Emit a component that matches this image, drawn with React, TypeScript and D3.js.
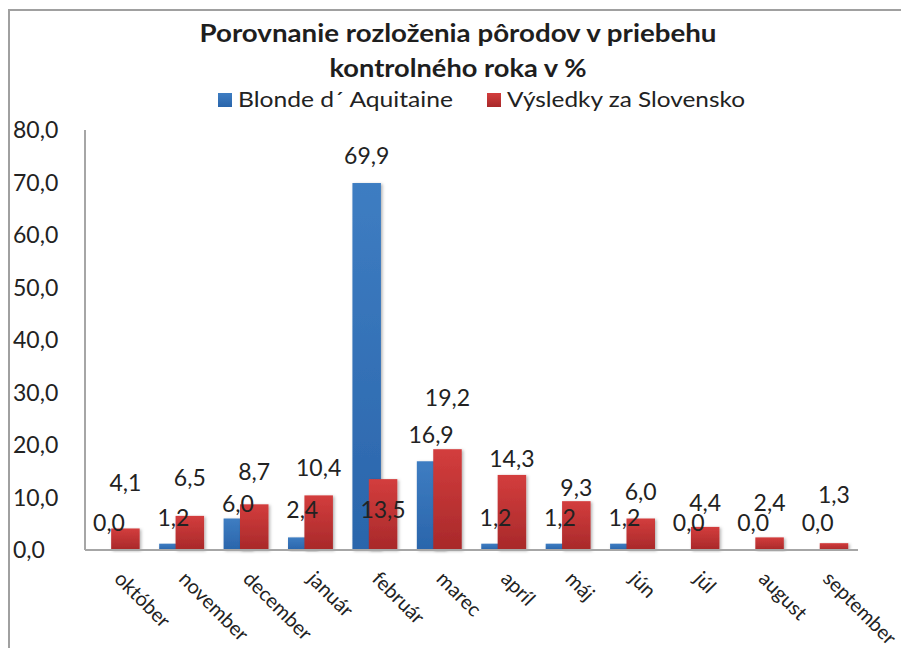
import React from "react";
import * as d3 from "d3";

const categories = ["október", "november", "december", "január", "február", "marec", "apríl", "máj", "jún", "júl", "august", "september"];
const blondeValues = [0.0, 1.2, 6.0, 2.4, 69.9, 16.9, 1.2, 1.2, 1.2, 0.0, 0.0, 0.0];
const slovakiaValues = [4.1, 6.5, 8.7, 10.4, 13.5, 19.2, 14.3, 9.3, 6.0, 4.4, 2.4, 1.3];
const yTicks = [0, 10, 20, 30, 40, 50, 60, 70, 80];
const seriesNames = ["Blonde d´ Aquitaine", "Výsledky za Slovensko"];
const titleLines = ["Porovnanie rozloženia pôrodov v priebehu", "kontrolného roka v %"];

// label nudges (pixels, relative to bar top) as placed in the original
const blueLabelDy = [-27, -26, -15, -27, -27, -26, -26, -26, -26, -27, -27, -27];
const redLabelDy = [-45, -38, -32, -27, 31, -51, -16, -13, -27, -24, -34, -48];

const W = 901;
const H = 648;
const FONT = "Lato, 'Open Sans', sans-serif";
const fmt = (v: number) => d3.format(".1f")(v).replace(".", ",");

export default function App() {
  const x0 = 85, x1 = 858, yBase = 550, yTop = 130;
  const x = d3.scaleBand<string>().domain(categories).range([x0, x1]).padding(0);
  const y = d3.scaleLinear().domain([0, 80]).range([yBase, yTop]);
  const barW = 28.5;
  const off = 8.2;
  const titleWidths = [517, 257];
  const titleY = [42, 77];

  return (
    <svg width={W} height={H} style={{ position: "fixed", left: 0, top: 0, background: "#fff" }} fontFamily={FONT}>
      <defs>
        <linearGradient id="gBlue" x1="0" y1="0" x2="0" y2="1">
          <stop offset="0%" stopColor="#3e7dc2" />
          <stop offset="100%" stopColor="#2a65ab" />
        </linearGradient>
        <linearGradient id="gRed" x1="0" y1="0" x2="0" y2="1">
          <stop offset="0%" stopColor="#d33d3d" />
          <stop offset="100%" stopColor="#a8292a" />
        </linearGradient>
        <filter id="shadow" x="-30%" y="-5%" width="160%" height="115%">
          <feDropShadow dx="1.5" dy="1" stdDeviation="1.5" floodColor="#000" floodOpacity="0.3" />
        </filter>
      </defs>
      <rect x={0} y={0} width={W} height={H} fill="#fff" />
      <rect x={9} y={10} width={W + 20} height={H + 20} fill="none" stroke="#a0a0a0" strokeWidth={2} />

      {titleLines.map((t, i) => (
        <text key={t} x={458 - titleWidths[i] / 2} y={titleY[i]} fontSize={24} fontWeight={700} fill="#1e1e1e"
          textLength={titleWidths[i]} lengthAdjust="spacingAndGlyphs">
          {t}
        </text>
      ))}

      {/* legend */}
      <rect x={218} y={93} width={14} height={14} fill="url(#gBlue)" />
      <text x={238} y={107} fontSize={21} fill="#222" textLength={215} lengthAdjust="spacingAndGlyphs">{seriesNames[0]}</text>
      <rect x={487} y={93} width={14} height={14} fill="url(#gRed)" />
      <text x={507} y={107} fontSize={21} fill="#222" textLength={238} lengthAdjust="spacingAndGlyphs">{seriesNames[1]}</text>

      {/* y tick labels */}
      {yTicks.map((t) => (
        <text key={t} x={13} y={y(t) + 8} fontSize={23} fill="#222">
          {fmt(t)}
        </text>
      ))}

      {/* bars */}
      {categories.map((c, i) => {
        const cx = (x(c) as number) + x.bandwidth() / 2;
        return (
          <g key={c}>
            {blondeValues[i] > 0 && (
              <rect x={cx - off - barW / 2} y={y(blondeValues[i])} width={barW} height={yBase - y(blondeValues[i])} fill="url(#gBlue)" filter="url(#shadow)" />
            )}
            <rect x={cx + off - barW / 2} y={y(slovakiaValues[i])} width={barW} height={yBase - y(slovakiaValues[i])} fill="url(#gRed)" filter="url(#shadow)" />
          </g>
        );
      })}

      {/* axes */}
      <line x1={x0} x2={x0} y1={yTop} y2={yBase} stroke="#a6a6a6" strokeWidth={2} />
      <line x1={x0} x2={x1} y1={yBase} y2={yBase} stroke="#a6a6a6" strokeWidth={2} />

      {/* data labels */}
      {categories.map((c, i) => {
        const cx = (x(c) as number) + x.bandwidth() / 2;
        return (
          <g key={"l" + c} fontSize={23} fill="#222" textAnchor="middle">
            <text x={cx - off} y={y(blondeValues[i]) + blueLabelDy[i] + 8}>{fmt(blondeValues[i])}</text>
            <text x={cx + off} y={y(slovakiaValues[i]) + redLabelDy[i] + 8}>{fmt(slovakiaValues[i])}</text>
          </g>
        );
      })}

      {/* category labels */}
      {categories.map((c) => {
        const cx = (x(c) as number) + x.bandwidth() / 2;
        return (
          <text key={"c" + c} transform={`translate(${cx - 4},${580}) rotate(45)`} fontSize={20} fill="#222">
            {c}
          </text>
        );
      })}
    </svg>
  );
}
